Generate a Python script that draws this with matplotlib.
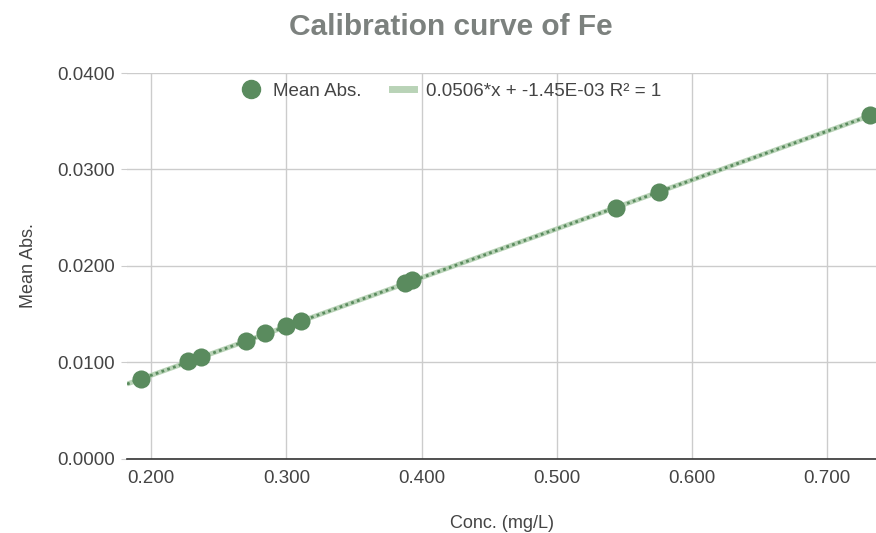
import matplotlib.pyplot as plt
import numpy as np
from matplotlib.lines import Line2D

plt.rcParams['font.family'] = ['Liberation Sans', 'DejaVu Sans']

# concentration (mg/L) and mean absorbance
conc = [0.192, 0.227, 0.237, 0.270, 0.284, 0.300, 0.311, 0.388, 0.393, 0.544, 0.576, 0.732]
absb = [0.0083, 0.0101, 0.0106, 0.0122, 0.0130, 0.0138, 0.0143, 0.0182, 0.0185, 0.0260, 0.0277, 0.0356]
slope = 0.0506
intercept = -1.45e-03
eq_label = "0.0506*x + -1.45E-03 R² = 1"

xticks = [0.2, 0.3, 0.4, 0.5, 0.6, 0.7]
yticks = [0.0, 0.01, 0.02, 0.03, 0.04]

green = '#5a8b5e'
light = '#b9d3b7'
txt = '#444444'

fig = plt.figure(figsize=(8.76, 5.33), dpi=100)
ax = fig.add_axes([0.145, 0.139, 0.855, 0.724])

xmin, xmax = 0.182, 0.7362
xs = np.array([xmin, xmax])
ax.plot(xs, slope * xs + intercept, color=light, lw=3.5, solid_capstyle='butt', zorder=2)
ax.plot(xs, slope * xs + intercept, color=green, lw=2, ls=(0, (1, 1.2)), zorder=3)
ax.scatter(conc, absb, s=170, color=green, zorder=4, clip_on=False, linewidths=0)

ax.set_xlim(xmin, xmax)
ax.set_ylim(0, 0.04)
ax.set_xticks(xticks)
ax.set_xticklabels([f"{v:.3f}" for v in xticks])
ax.set_yticks(yticks)
ax.set_yticklabels([f"{v:.4f}" for v in yticks])
ax.grid(True, color='#cccccc', lw=1)
ax.set_axisbelow(True)
for s in ['top', 'right', 'left']:
    ax.spines[s].set_visible(False)
ax.spines['bottom'].set_color('#333333')
ax.spines['bottom'].set_linewidth(1.2)
ax.tick_params(axis='x', length=0, pad=8, labelsize=13.5, labelcolor=txt)
ax.tick_params(axis='y', length=4, color='#cccccc', pad=5, labelsize=13.5, labelcolor=txt)

ax.set_xlabel("Conc. (mg/L)", fontsize=13, color=txt, labelpad=20)
ax.set_ylabel("Mean Abs.", fontsize=13, color=txt, labelpad=14)

fig.suptitle("Calibration curve of Fe", fontsize=21.5, fontweight='bold', color='#7c817e', x=0.515, y=0.975)

handles = [Line2D([], [], marker='o', ls='', color=green, markersize=13),
           Line2D([], [], color=light, lw=5)]
fig.legend(handles, ["Mean Abs.", eq_label], loc='center', bbox_to_anchor=(0.514, 0.829),
           ncol=2, frameon=False, fontsize=13.5, labelcolor=txt, handlelength=1.2,
           columnspacing=1.6, handletextpad=0.6)

fig.savefig('out.png', dpi=100)
